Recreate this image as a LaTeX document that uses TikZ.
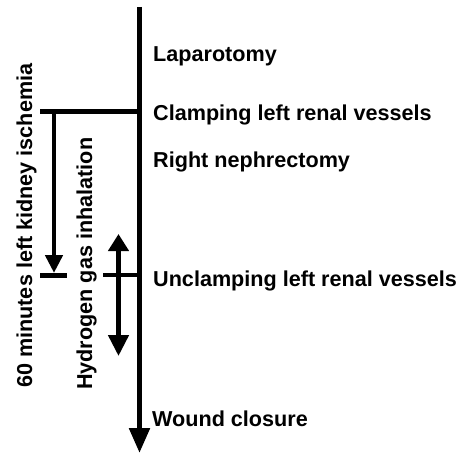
\documentclass[tikz,border=0pt]{standalone}
\usepackage{fontspec}
\setmainfont{Liberation Sans}
\usetikzlibrary{arrows.meta}
\tikzset{
  lbl/.style={font=\bfseries\fontsize{21.6bp}{24bp}\selectfont, inner sep=0pt, anchor=base west},
  vlbl/.style={lbl, rotate=90},
  thick line/.style={line width=4.6bp, black},
  main line/.style={line width=5.2bp, black, -{Triangle[length=25bp,width=20bp]}},
}
\begin{document}
\begin{tikzpicture}[x=1bp,y=-1bp]
\useasboundingbox (0,0) rectangle (456,454);
% coordinates
\coordinate (top) at (139.5,7);
\coordinate (bot) at (139.5,453);
\coordinate (clampL) at (40,111.5);
\coordinate (clampR) at (139.5,111.5);
\coordinate (downS) at (54,111.5);
\coordinate (downE) at (54,273);
\coordinate (barL) at (40,275.5);
\coordinate (barR) at (67,275.5);
\coordinate (unL) at (103,275);
\coordinate (unR) at (139.5,275);
\coordinate (h2top) at (118.5,234);
\coordinate (h2bot) at (118.5,356);
% lines
\draw[main line] (top) -- (bot);
\draw[thick line] (clampL) -- (clampR);
\draw[thick line, -{Triangle[length=18bp,width=17bp]}] (downS) -- (downE);
\draw[thick line] (barL) -- (barR);
\draw[thick line] (unL) -- (unR);
\draw[thick line, {Triangle[length=17bp,width=20bp]}-{Triangle[length=21bp,width=20bp]}] (h2top) -- (h2bot);
% labels
\node[lbl] (lap) at (153,62) {Laparotomy};
\node[lbl] (clamp) at (153,121) {Clamping left renal vessels};
\node[lbl] (neph) at (153,168) {Right nephrectomy};
\node[lbl] (unclamp) at (153,286) {Unclamping left renal vessels};
\node[lbl] (wound) at (152,426) {Wound closure};
\node[vlbl] (isch) at (32,388) {60 minutes left kidney ischemia};
\node[vlbl] (hyd) at (92,390) {Hydrogen gas inhalation};
\end{tikzpicture}
\end{document}
